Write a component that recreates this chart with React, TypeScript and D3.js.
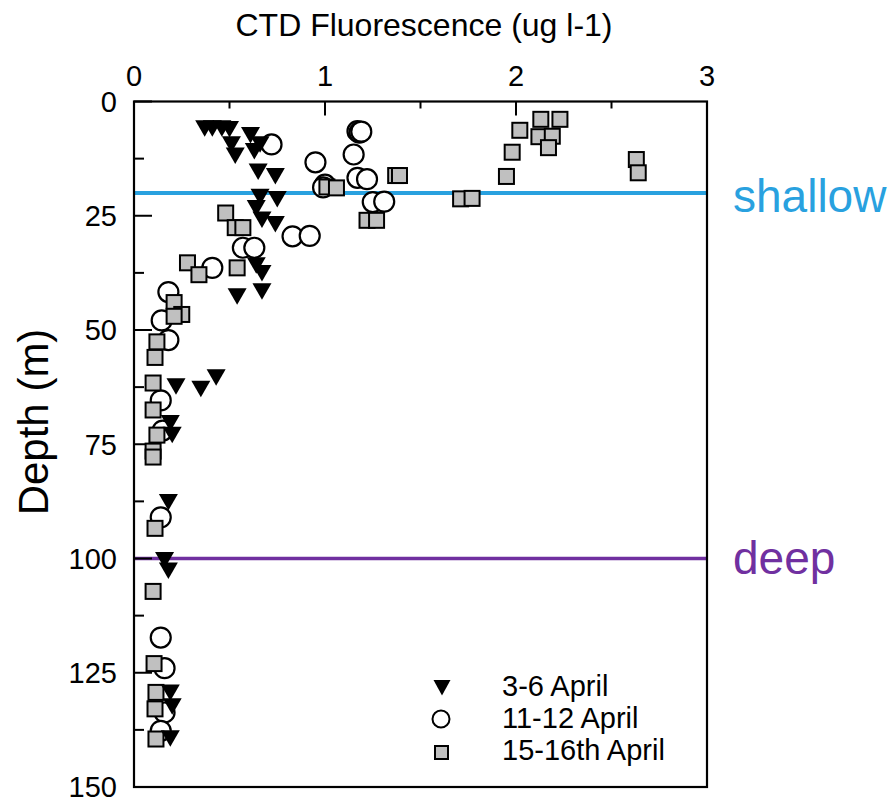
import React from "react";
import * as d3 from "d3";

const xTicks = [0, 0.5, 1, 1.5, 2, 2.5, 3];
const yTicks = [0, 12.5, 25, 37.5, 50, 62.5, 75, 87.5, 100, 112.5, 125, 137.5, 150];
const xTickLabels = ["0", "1", "2", "3"];
const yTickLabels = ["0", "25", "50", "75", "100", "125", "150"];

// [fluorescence, depth]
const april3to6: [number, number][] = [
  [0.37, 5.5], [0.41, 5.5], [0.46, 5.5], [0.5, 5.7], [0.51, 9], [0.53, 11.5],
  [0.61, 7], [0.66, 9], [0.63, 10.5], [0.65, 15], [0.74, 16], [0.66, 20.5],
  [0.75, 21], [0.64, 23], [0.67, 25.5], [0.74, 26.5], [0.64, 35.5], [0.67, 37.2],
  [0.54, 42.3], [0.67, 41.2], [0.43, 60], [0.35, 62.5], [0.22, 62], [0.19, 70],
  [0.2, 72.6], [0.18, 87.3], [0.16, 100], [0.18, 102.3], [0.19, 129], [0.2, 132],
  [0.19, 139],
];
const april11to12: [number, number][] = [
  [0.72, 9.4], [0.95, 13.3], [1.17, 6.5], [1.18, 6.8], [1.19, 6.6], [1.15, 11.6],
  [1.17, 16.7], [1.22, 17], [1.0, 18.2], [0.99, 18.8], [1.25, 22], [1.31, 21.9],
  [0.83, 29.5], [0.92, 29.4], [0.57, 32], [0.63, 32], [0.41, 36.4], [0.18, 41.7],
  [0.145, 47.9], [0.18, 52.2], [0.14, 65.4], [0.15, 72], [0.14, 91], [0.14, 117.3],
  [0.16, 124], [0.16, 133.7], [0.14, 137.7],
];
const april15to16: [number, number][] = [
  [2.02, 6.3], [2.13, 3.9], [2.23, 3.9], [2.12, 7.7], [2.19, 7.6], [2.17, 10.1],
  [1.98, 11.1], [1.95, 16.4], [1.71, 21.3], [1.77, 21.2], [2.63, 12.7], [2.64, 15.6],
  [1.37, 16.2], [1.39, 16.2], [1.01, 18.7], [1.06, 18.9], [1.22, 26], [1.27, 26],
  [0.48, 24.4], [0.53, 27.6], [0.57, 27.6], [0.54, 36.4], [0.28, 35.3], [0.34, 37.9],
  [0.21, 44], [0.25, 46.6], [0.21, 47], [0.12, 52.6], [0.11, 56], [0.1, 61.6],
  [0.1, 67.5], [0.12, 73], [0.1, 76.5], [0.1, 77.8], [0.11, 93.4], [0.1, 107.2],
  [0.105, 123], [0.115, 129.3], [0.11, 132.9], [0.115, 139.5],
];
const legendLabels = ["3-6 April", "11-12 April", "15-16th April"];
const refDepths = [20, 100];
const refLabels = ["shallow", "deep"];
const refColors = ["#29a1df", "#7030a0"];

const FONT = "'Liberation Sans', Arial, Helvetica, sans-serif";

export default function App() {
  const x = d3.scaleLinear().domain([0, 3]).range([134, 707]);
  const y = d3.scaleLinear().domain([0, 150]).range([101.5, 787]);
  const tri = "M-9.5,-6.5L9.5,-6.5L0,10Z";
  const triLeg = "M-8.5,-6L8.5,-6L0,9.5Z";

  return (
    <svg
      width={894}
      height={803}
      style={{ position: "absolute", left: 0, top: 0, background: "#fff" }}
      fontFamily={FONT}
    >
      <rect x={0} y={0} width={894} height={803} fill="#fff" />
      {/* title */}
      <text x={424} y={36} fontSize={32} textAnchor="middle" fill="#000">
        CTD Fluorescence (ug l-1)
      </text>
      {/* x tick labels */}
      {xTickLabels.map((t) => (
        <text key={t} x={x(+t)} y={86} fontSize={29} textAnchor="middle">
          {t}
        </text>
      ))}
      {/* y tick labels */}
      {yTickLabels.map((t) => (
        <text key={t} x={117} y={y(+t)} dy="0.36em" fontSize={29} textAnchor="end">
          {t}
        </text>
      ))}
      <text
        transform={`translate(48,${422}) rotate(-90)`}
        fontSize={42}
        textAnchor="middle"
      >
        Depth (m)
      </text>

      {/* reference lines */}
      {refDepths.map((d, i) => (
        <g key={d}>
          <line x1={x(0)} x2={x(3)} y1={y(d)} y2={y(d)} stroke={refColors[i]} strokeWidth={i === 0 ? 4 : 3.5} />
          <text x={733} y={y(d) + (i === 0 ? 19 : 15)} fontSize={46} fill={refColors[i]}>
            {refLabels[i]}
          </text>
        </g>
      ))}

      {/* frame */}
      <rect x={x(0)} y={y(0)} width={x(3) - x(0)} height={y(150) - y(0)} fill="none" stroke="#000" strokeWidth={2.2} />
      {xTicks.map((t) => (
        <line key={t} x1={x(t)} x2={x(t)} y1={y(0)} y2={y(0) + (t % 1 === 0 ? 14 : 7)} stroke="#000" strokeWidth={2} />
      ))}
      {yTicks.map((t) => (
        <line key={t} x1={x(0)} x2={x(0) + (t % 25 === 0 ? 18 : 10)} y1={y(t)} y2={y(t)} stroke="#000" strokeWidth={2} />
      ))}

      {/* data */}
      {april11to12.map(([v, d], i) => (
        <circle key={"c" + i} cx={x(v)} cy={y(d)} r={10} fill="#fff" stroke="#000" strokeWidth={2.2} />
      ))}
      {april15to16.map(([v, d], i) => (
        <rect key={"s" + i} x={x(v) - 7.5} y={y(d) - 7.5} width={15} height={15} fill="#c0c0c0" stroke="#000" strokeWidth={2} />
      ))}
      {april3to6.map(([v, d], i) => (
        <path key={"t" + i} d={tri} transform={`translate(${x(v)},${y(d)})`} fill="#000" />
      ))}

      {/* legend */}
      <path d={triLeg} transform="translate(442,686)" fill="#000" />
      <circle cx={441} cy={719} r={8.5} fill="#fff" stroke="#000" strokeWidth={2} />
      <rect x={435} y={746} width={13} height={13} fill="#c0c0c0" stroke="#000" strokeWidth={2} />
      {legendLabels.map((l, i) => (
        <text key={l} x={502} y={696 + i * 32} fontSize={29}>
          {l}
        </text>
      ))}
    </svg>
  );
}
